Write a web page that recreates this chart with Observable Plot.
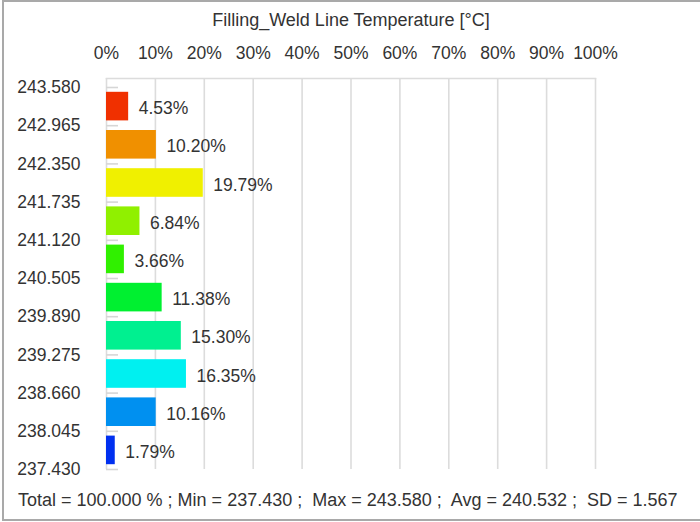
<!DOCTYPE html>
<html><head><meta charset="utf-8">
<script src="https://cdn.jsdelivr.net/npm/d3@7"></script>
<script src="https://cdn.jsdelivr.net/npm/@observablehq/plot@0.6"></script>
<style>
html,body{margin:0;padding:0;background:#fff;}
#wrap{position:relative;width:700px;height:522px;overflow:hidden;font-family:"Liberation Sans",Arial,sans-serif;color:#333;}
#border{position:absolute;left:2px;top:0;width:698px;height:521px;border-top:2px solid #a9a9a9;border-left:2px solid #a9a9a9;border-bottom:2px solid #a9a9a9;box-sizing:border-box;}
#title{position:absolute;left:0;width:702px;top:9px;text-align:center;font-size:18px;line-height:22px;}
#chart{position:absolute;left:0;top:40px;}
#footer{position:absolute;left:18px;top:489px;font-size:18px;line-height:22px;white-space:pre;}
</style>
</head><body>
<div id="wrap">
  <div id="border"></div>
  <div id="title"></div>
  <div id="chart"></div>
  <div id="footer"></div>
</div>
<script>
const titleText = "Filling_Weld Line Temperature [°C]";
const footerText = "Total = 100.000 % ; Min = 237.430 ;  Max = 243.580 ;  Avg = 240.532 ;  SD = 1.567";
// bin edges (bottom to top)
const binEdges = [237.430, 238.045, 238.660, 239.275, 239.890, 240.505, 241.120, 241.735, 242.350, 242.965, 243.580];
// percentage per bin (bottom to top)
const percents = [1.79, 10.16, 16.35, 15.30, 11.38, 3.66, 6.84, 19.79, 10.20, 4.53];
const binColors = ["#0030f0", "#0090f0", "#00f0f0", "#00f090", "#00f030", "#30f000", "#90f000", "#f0f000", "#f09000", "#f03000"];
const xTicks = [0, 10, 20, 30, 40, 50, 60, 70, 80, 90, 100];

document.getElementById("title").textContent = titleText;
document.getElementById("footer").textContent = footerText;

const bins = percents.map((p, i) => ({lo: binEdges[i], hi: binEdges[i + 1], pct: p, color: binColors[i]}));

const chart = Plot.plot({
  width: 700,
  height: 440,
  marginTop: 38,
  marginBottom: 11,
  marginLeft: 106,
  marginRight: 105,
  style: {fontFamily: "Liberation Sans, Arial, sans-serif", fontSize: "17.5px", color: "#333", background: "transparent"},
  x: {domain: [0, 100]},
  y: {domain: [binEdges[0], binEdges[binEdges.length - 1]], insetTop: 9},
  marks: [
    Plot.gridX(xTicks, {stroke: "#dcdcdc", strokeOpacity: 1, strokeWidth: 1.6}),
    Plot.frame({anchor: "top", stroke: "#dcdcdc", strokeWidth: 1.6}),
    Plot.axisY(binEdges, {anchor: "left", tickSize: -12, text: null, stroke: "#d6d6d6", strokeOpacity: 1, strokeWidth: 1.6}),
    Plot.axisY(binEdges, {anchor: "left", tickSize: 0, tickPadding: 26, tickFormat: d3.format(".3f"), fill: "#333", label: null}),
    Plot.axisX(xTicks, {anchor: "top", tickSize: 0, tickPadding: 20, tickFormat: d => d + "%", fill: "#333", label: null}),
    Plot.rectX(bins, {x: "pct", y1: "lo", y2: "hi", fill: "color", insetTop: 4.8, insetBottom: 4.8}),
    Plot.text(bins, {x: "pct", y: d => (d.lo + d.hi) / 2, text: d => d.pct.toFixed(2) + "%", textAnchor: "start", dx: 10, dy: 2, fill: "#333"})
  ]
});
document.getElementById("chart").appendChild(chart);
</script>
</body></html>
